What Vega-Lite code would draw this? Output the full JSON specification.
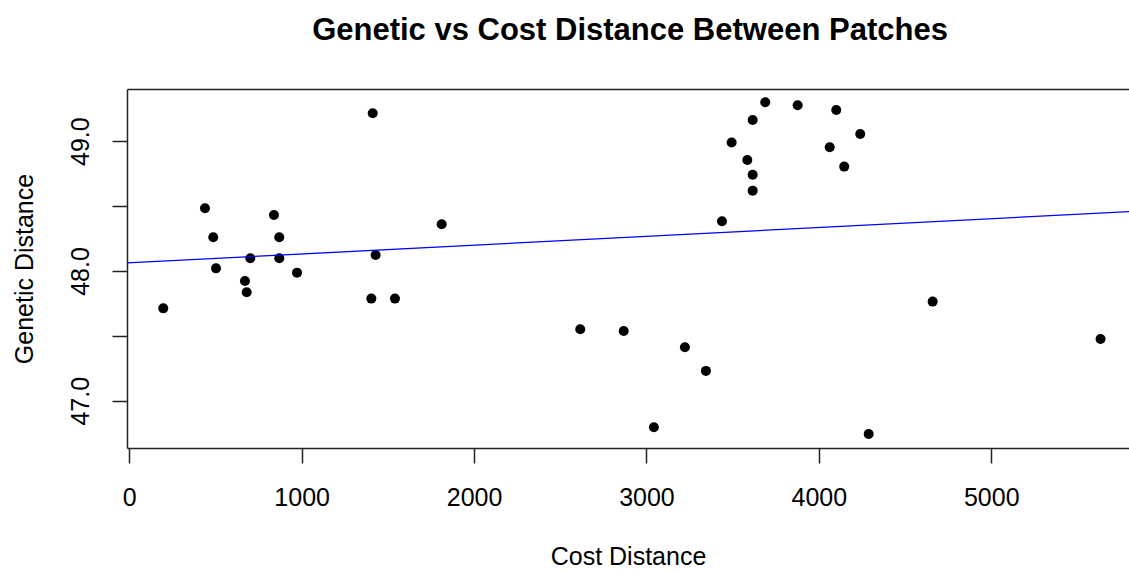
{
  "$schema": "https://vega.github.io/schema/vega-lite/v6.json",
  "width": 1002,
  "height": 359,
  "autosize": {"type": "none"},
  "padding": {"left": 127, "top": 89, "right": 0, "bottom": 124},
  "background": "white",
  "title": {
    "text": "Genetic vs Cost Distance Between Patches",
    "font": "Liberation Sans",
    "fontSize": 31,
    "fontWeight": "bold",
    "color": "black",
    "anchor": "middle",
    "baseline": "alphabetic",
    "offset": 18,
    "dx": 2
  },
  "config": {
    "view": {"stroke": null},
    "axis": {
      "labelFont": "Liberation Sans",
      "titleFont": "Liberation Sans",
      "labelFontSize": 25,
      "titleFontSize": 25,
      "labelColor": "black",
      "titleColor": "black",
      "titleFontWeight": "normal",
      "domainColor": "#222222",
      "tickColor": "#222222",
      "domainWidth": 1.5,
      "tickWidth": 1.5,
      "tickSize": 15,
      "grid": false,
      "labelOverlap": false,
      "labelFlush": false
    }
  },
  "datasets": {
    "points": [
      {"cost": 1412, "genetic": 49.215},
      {"cost": 439, "genetic": 48.483},
      {"cost": 839, "genetic": 48.431},
      {"cost": 1812, "genetic": 48.36},
      {"cost": 487, "genetic": 48.26},
      {"cost": 870, "genetic": 48.26},
      {"cost": 1429, "genetic": 48.123},
      {"cost": 702, "genetic": 48.098},
      {"cost": 870, "genetic": 48.098},
      {"cost": 503, "genetic": 48.02},
      {"cost": 973, "genetic": 47.987},
      {"cost": 671, "genetic": 47.923},
      {"cost": 681, "genetic": 47.836},
      {"cost": 1404, "genetic": 47.787},
      {"cost": 1541, "genetic": 47.787},
      {"cost": 197, "genetic": 47.712},
      {"cost": 3689, "genetic": 49.3},
      {"cost": 3877, "genetic": 49.277},
      {"cost": 4101, "genetic": 49.24},
      {"cost": 3616, "genetic": 49.163},
      {"cost": 4240, "genetic": 49.055},
      {"cost": 3494, "genetic": 48.99},
      {"cost": 4063, "genetic": 48.953},
      {"cost": 3585, "genetic": 48.855},
      {"cost": 4147, "genetic": 48.804},
      {"cost": 3616, "genetic": 48.742},
      {"cost": 3616, "genetic": 48.619},
      {"cost": 3438, "genetic": 48.383},
      {"cost": 4660, "genetic": 47.764},
      {"cost": 5634, "genetic": 47.476},
      {"cost": 4289, "genetic": 46.744},
      {"cost": 2616, "genetic": 47.551},
      {"cost": 2868, "genetic": 47.538},
      {"cost": 3223, "genetic": 47.412},
      {"cost": 3345, "genetic": 47.23},
      {"cost": 3043, "genetic": 46.796}
    ],
    "fit": [
      {"cost": -100, "genetic": 48.0561},
      {"cost": 6000, "genetic": 48.4707}
    ]
  },
  "layer": [
    {
      "data": {"name": "points"},
      "mark": {"type": "circle", "color": "black", "opacity": 1, "size": 100},
      "encoding": {
        "x": {
          "field": "cost",
          "type": "quantitative",
          "scale": {"domain": [-13.3, 5799], "nice": false, "zero": false},
          "axis": {
            "orient": "bottom",
            "values": [0, 1000, 2000, 3000, 4000, 5000],
            "format": "d",
            "labelAngle": 0,
            "labelAlign": "center",
            "labelBaseline": "alphabetic",
            "labelPadding": 42,
            "title": "Cost Distance",
            "titlePadding": 34
          }
        },
        "y": {
          "field": "genetic",
          "type": "quantitative",
          "scale": {"domain": [46.636, 49.402], "nice": false, "zero": false},
          "axis": {
            "values": [47, 47.5, 48, 48.5, 49],
            "labelExpr": "datum.value % 1 === 0 ? format(datum.value, '.1f') : ''",
            "labelAngle": -90,
            "labelAlign": "center",
            "labelBaseline": "alphabetic",
            "labelPadding": 24,
            "title": "Genetic Distance",
            "titlePadding": 31
          }
        }
      }
    },
    {
      "data": {"name": "fit"},
      "mark": {"type": "line", "color": "#0000ff", "strokeWidth": 1.3, "clip": true},
      "encoding": {
        "x": {
          "field": "cost",
          "type": "quantitative",
          "axis": {"orient": "top", "labels": false, "ticks": false, "title": null, "domain": true}
        },
        "y": {"field": "genetic", "type": "quantitative", "title": "Genetic Distance"}
      }
    }
  ],
  "resolve": {"axis": {"x": "independent"}}
}
